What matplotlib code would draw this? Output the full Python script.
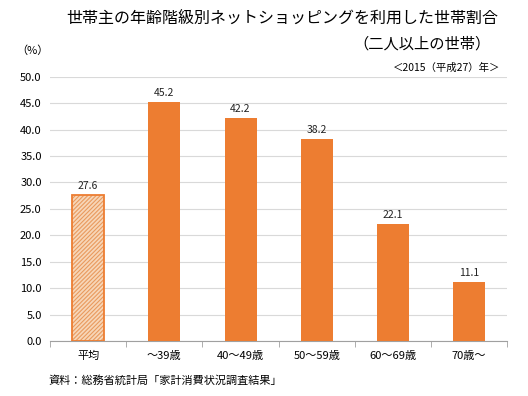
import matplotlib
matplotlib.use("Agg")
import matplotlib.pyplot as plt

plt.rcParams['font.family'] = ['Noto Sans CJK JP', 'DejaVu Sans']

categories = ['平均', '～39歳', '40～49歳', '50～59歳', '60～69歳', '70歳～']
values = [27.6, 45.2, 42.2, 38.2, 22.1, 11.1]
yticks = [0, 5, 10, 15, 20, 25, 30, 35, 40, 45, 50]

fig = plt.figure(figsize=(5.28, 3.96), dpi=100)
ax = fig.add_axes([0.0947, 0.139, 0.866, 0.667])

orange = '#ED7D31'
x = list(range(len(categories)))
plt.rcParams['hatch.linewidth'] = 0.8
for i, v in enumerate(values):
    if i == 0:
        ax.bar(i, v, width=0.42, facecolor='#F7D6B8', edgecolor='#E99A5E', hatch='////////', linewidth=0, zorder=3)
        ax.bar(i, v, width=0.42, fill=False, edgecolor=orange, linewidth=1.3, zorder=4)
    else:
        ax.bar(i, v, width=0.42, color=orange, zorder=3)
    ax.text(i, v + 0.8, f'{v:.1f}', ha='center', va='bottom', fontsize=7.5, color='#222222')

ax.set_xlim(-0.5, len(categories) - 0.5)
ax.set_ylim(0, 50)
ax.set_yticks(yticks)
ax.set_yticklabels([f'{t:.1f}' for t in yticks], fontsize=8)
ax.yaxis.grid(True, color='#d9d9d9', linewidth=0.8, zorder=0)
ax.set_xticks(x)
ax.set_xticklabels(categories, fontsize=8)
ax.tick_params(axis='x', length=0, pad=7)
ax.tick_params(axis='y', length=0, pad=6)
ax.set_xticks([i + 0.5 for i in range(-1, len(categories))], minor=True)
ax.tick_params(axis='x', which='minor', length=4, color='#a0a0a0')
for s in ['top', 'right', 'left']:
    ax.spines[s].set_visible(False)
ax.spines['bottom'].set_color('#a0a0a0')

fig.text(0.535, 0.955, '世帯主の年齢階級別ネットショッピングを利用した世帯割合', ha='center', va='center', fontsize=11.5)
fig.text(0.93, 0.89, '（二人以上の世帯）', ha='right', va='center', fontsize=11)
fig.text(0.03, 0.872, '（%）', ha='left', va='center', fontsize=8)
fig.text(0.948, 0.828, '＜2015（平成27）年＞', ha='right', va='center', fontsize=7.5)
fig.text(0.091, 0.04, '資料：総務省統計局「家計消費状況調査結果」', ha='left', va='center', fontsize=8)

fig.savefig('out.png', dpi=100)
